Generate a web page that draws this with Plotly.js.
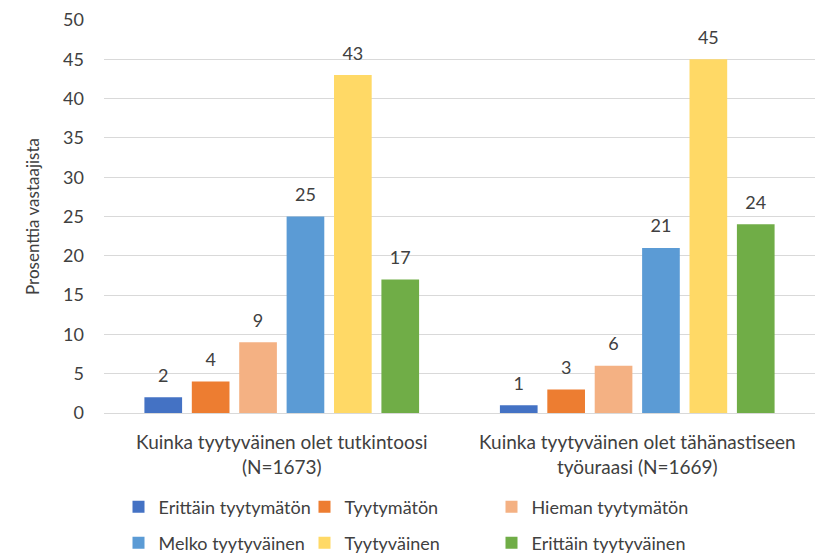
<!DOCTYPE html>
<html><head><meta charset="utf-8">
<script src="https://cdn.plot.ly/plotly-3.0.1.min.js"></script>
<style>html,body{margin:0;padding:0;background:#fff}#chart{width:819px;height:553px}</style>
</head><body><div id="chart"></div>
<script>
const categories = ["Kuinka tyytyväinen olet tutkintoosi<br>(N=1673)", "Kuinka tyytyväinen olet tähänastiseen<br>työuraasi (N=1669)"];
const seriesNames = ["Erittäin tyytymätön", "Tyytymätön", "Hieman tyytymätön", "Melko tyytyväinen", "Tyytyväinen", "Erittäin tyytyväinen"];
const erittainTyytymaton = [2, 1];
const tyytymaton = [4, 3];
const hiemanTyytymaton = [9, 6];
const melkoTyytyvainen = [25, 21];
const tyytyvainen = [43, 45];
const erittainTyytyvainen = [17, 24];
const seriesValues = [erittainTyytymaton, tyytymaton, hiemanTyytymaton, melkoTyytyvainen, tyytyvainen, erittainTyytyvainen];
const colors = ["#4472C4", "#ED7D31", "#F4B183", "#5B9BD5", "#FFD966", "#70AD47"];
const yTicks = [0, 5, 10, 15, 20, 25, 30, 35, 40, 45, 50];

const FONT = "Lato, 'Open Sans', sans-serif";
const TXT = "#404040";
const GAP = 0.2;
const legendIds = ["legend", "legend2", "legend3", "legend4", "legend5", "legend6"];

const bars = seriesNames.map((name, i) => ({
  type: "bar",
  name: name,
  x: categories,
  y: seriesValues[i],
  marker: {color: colors[i]},
  legend: legendIds[i],
  hoverinfo: "skip"
}));

// value labels: grouped scatter text placed above each bar
const labels = seriesNames.map((name, i) => ({
  type: "scatter",
  mode: "markers+text",
  name: name + " (label)",
  x: categories,
  y: seriesValues[i],
  text: seriesValues[i].map(String),
  textposition: "top center",
  textfont: {family: FONT, size: 18, color: TXT},
  marker: {size: 16, opacity: 0},
  cliponaxis: false,
  showlegend: false,
  hoverinfo: "skip"
}));

const legendX = [118.5, 304.5, 491.5];
const legendY = [507, 543];
const layout = {
  width: 819,
  height: 553,
  margin: {l: 104, r: 4, t: 20, b: 140},
  paper_bgcolor: "#fff",
  plot_bgcolor: "#fff",
  font: {family: FONT, size: 16, color: TXT},
  barmode: "group",
  bargap: GAP,
  bargroupgap: 0.205,
  scattermode: "group",
  scattergap: GAP,
  showlegend: true,
  xaxis: {
    type: "category",
    showgrid: false,
    showline: true,
    linecolor: "#D9D9D9",
    linewidth: 1,
    ticks: "",
    ticklabelstandoff: 12,
    tickfont: {family: FONT, size: 19, color: TXT},
    automargin: false,
    fixedrange: true
  },
  yaxis: {
    range: [0, 50],
    tickvals: yTicks,
    ticktext: yTicks.map(String),
    showgrid: true,
    gridcolor: "#D9D9D9",
    gridwidth: 1,
    zeroline: false,
    showline: false,
    ticks: "",
    ticklabelstandoff: 19,
    tickfont: {family: FONT, size: 18, color: TXT},
    title: {text: "Prosenttia vastaajista", font: {family: FONT, size: 17, color: TXT}, standoff: 19},
    automargin: false,
    fixedrange: true
  }
};
legendIds.forEach((id, i) => {
  layout[id] = {
    orientation: "h",
    xref: "container",
    yref: "container",
    xanchor: "left",
    yanchor: "middle",
    x: legendX[i % 3] / 819,
    y: 1 - legendY[Math.floor(i / 3)] / 553,
    font: {family: FONT, size: 18, color: TXT},
    itemclick: false,
    bgcolor: "rgba(0,0,0,0)"
  };
});

Plotly.newPlot("chart", bars.concat(labels), layout, {displayModeBar: false, staticPlot: true});
</script>
</body></html>
